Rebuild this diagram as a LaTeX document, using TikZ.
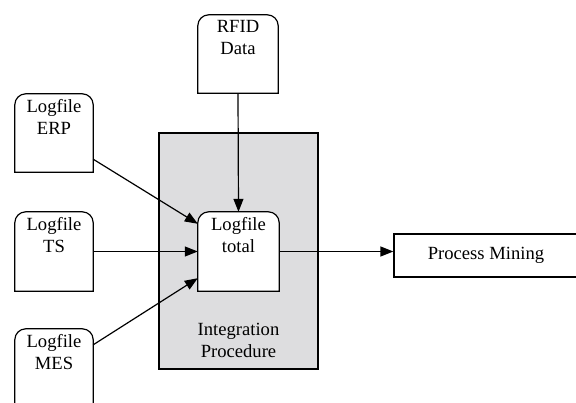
\documentclass[tikz,border=0pt]{standalone}
\usepackage{fontspec}
\setmainfont{Liberation Serif}
\newfontfamily\tnr{Liberation Serif}
\usetikzlibrary{arrows.meta,calc}
\definecolor{procgray}{RGB}{221,221,223}
\newcommand\tabbox[1]{\draw[line width=1.2pt,fill=white] (#1.south west) -- ($(#1.north west)+(0,11)$) arc[start angle=180,end angle=270,radius=11] -- ($(#1.north east)+(-11,0)$) arc[start angle=270,end angle=360,radius=11] -- (#1.south east) -- cycle;}
\begin{document}
\begin{tikzpicture}[x=1pt,y=-1pt,
  box/.style={inner sep=0pt,minimum width=78pt,minimum height=78pt},
  lbl/.style={font=\tnr\fontsize{18.6}{22}\selectfont,align=center,inner sep=0pt,anchor=north},
  conn/.style={line width=1.2pt,-{Triangle[length=13pt,width=10pt]}},
  plainbox/.style={draw,line width=1.2pt,inner sep=0pt}]
\useasboundingbox (0,0) rectangle (576,403);
\clip (0,0) rectangle (576,403);
\node[plainbox,fill=procgray,minimum width=159pt,minimum height=236pt] (proc) at (238.5,251) {};
\node[box,minimum width=80pt] (rfid) at (238,54) {};
\node[box] (erp) at (54,133) {};
\node[box,minimum height=79pt] (ts) at (54,251.5) {};
\node[box] (mes) at (54,368) {};
\node[box,minimum width=81pt,minimum height=79pt] (total) at (238.5,251.5) {};
\tabbox{rfid}
\tabbox{erp}
\tabbox{ts}
\tabbox{mes}
\tabbox{total}
\node[lbl] (rfidl) at ($(rfid.north)+(0,5)$) {RFID\\Data};
\node[lbl] (erpl) at ($(erp.north)+(0,5)$) {Logfile\\ERP};
\node[lbl] (tsl) at ($(ts.north)+(0,5)$) {Logfile\\TS};
\node[lbl] (mesl) at ($(mes.north)+(0,5)$) {Logfile\\MES};
\node[lbl] (totall) at ($(total.north)+(0,5)$) {Logfile\\total};
\node[lbl] (procl) at (238.5,323) {Integration\\Procedure};
\node[plainbox,font=\tnr\fontsize{18.6}{22}\selectfont,minimum width=184pt,minimum height=43pt] (pm) at (486,255.5) {Process Mining};
\draw[conn] (rfid.south) -- (total.north);
\draw[conn] ($(erp.south east)+(0,-13)$) -- ($(total.north west)+(0,12)$);
\draw[conn] (ts.east) -- (total.west);
\draw[conn] ($(mes.north east)+(0,16)$) -- ($(total.south west)+(0,-13)$);
\draw[conn] (total.east) -- (total.east -| pm.west);
\end{tikzpicture}
\end{document}
